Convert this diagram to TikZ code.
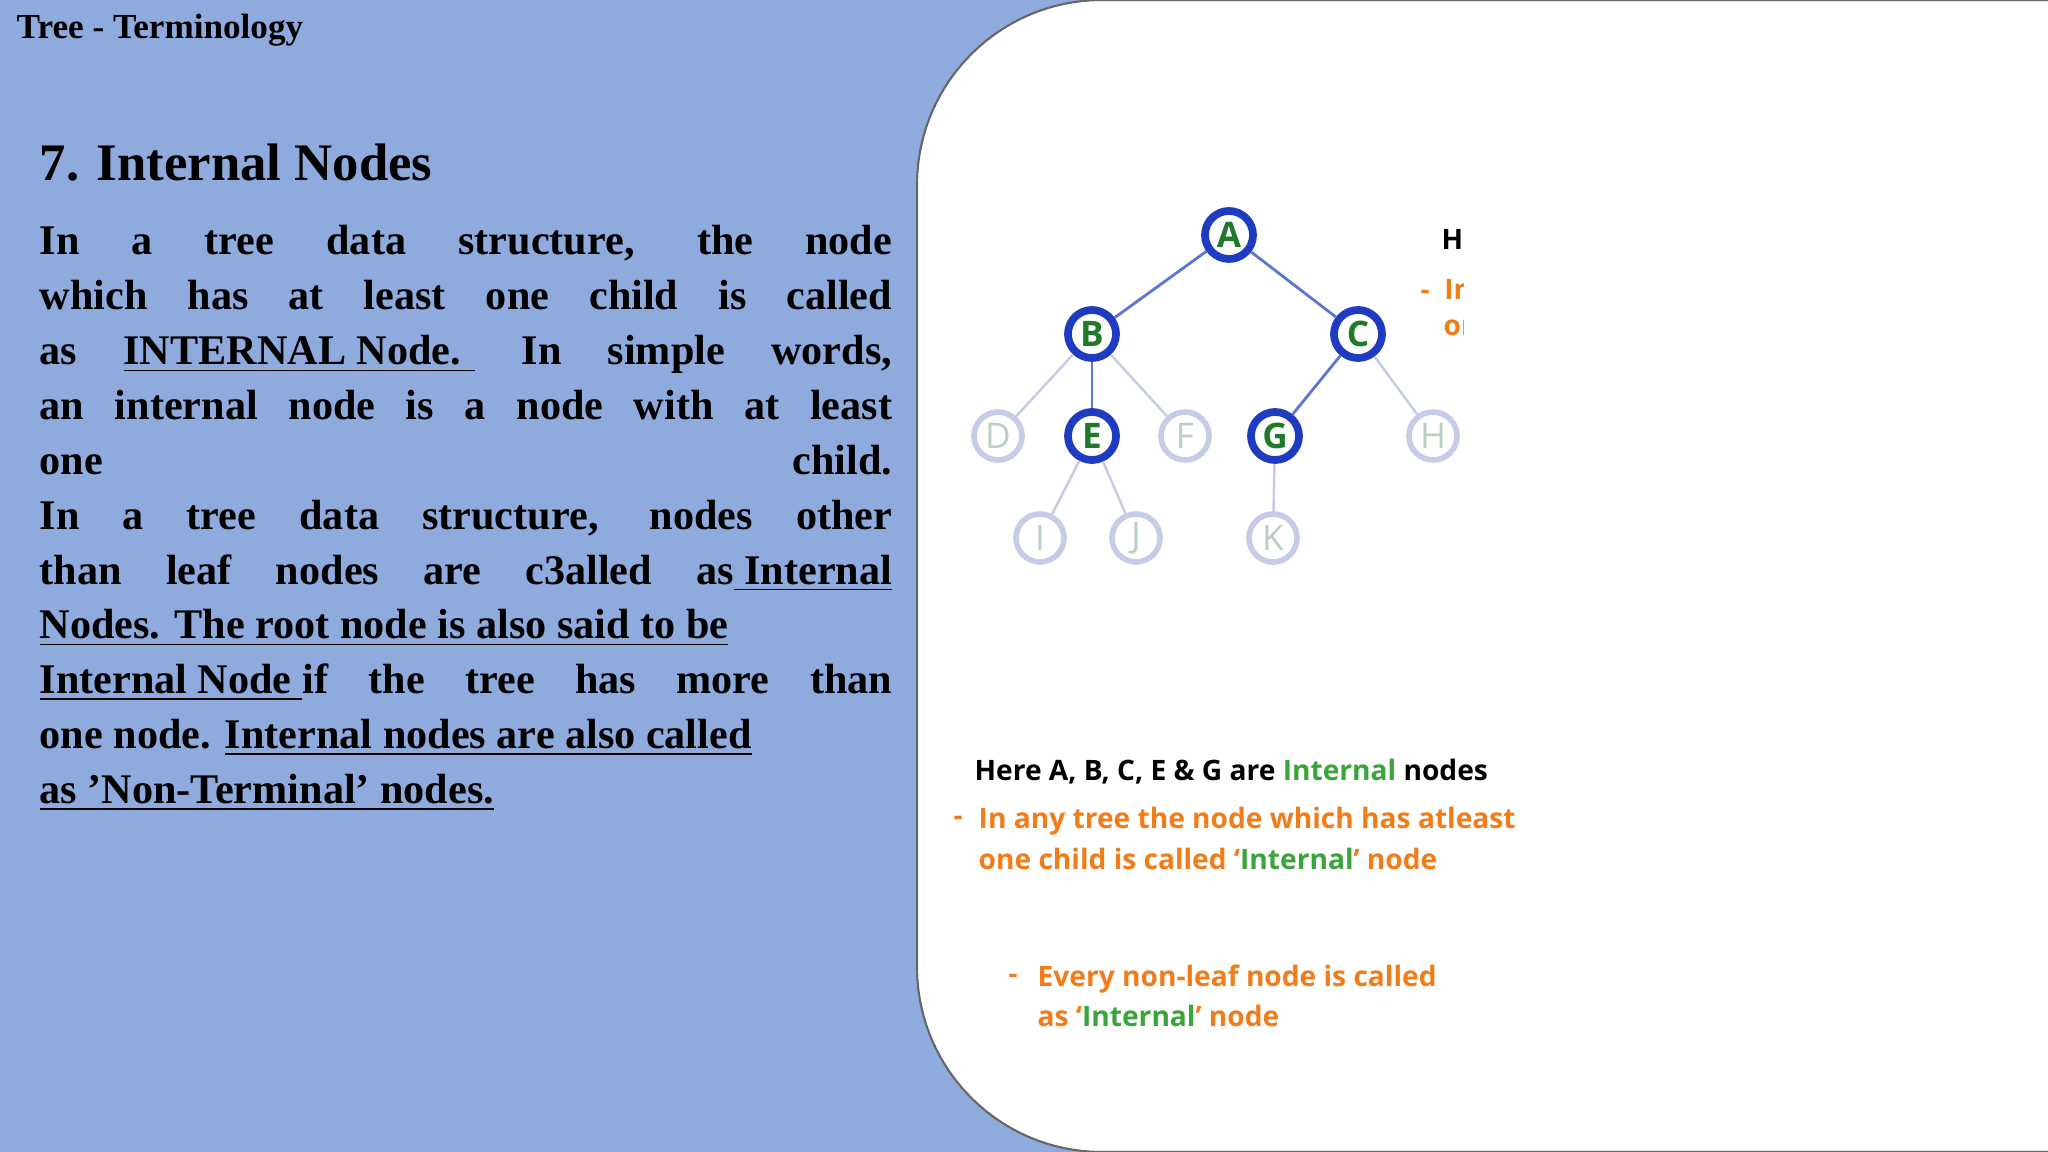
\documentclass[tikz,border=0pt]{standalone}
\usepackage{fontspec}
\setmainfont{Liberation Serif}
\newfontfamily\slidesans{Open Sans}
\usetikzlibrary{positioning}
\definecolor{slideblue}{HTML}{8FAADC}
\definecolor{ringblue}{HTML}{1F3CC0}
\definecolor{edgeblue}{HTML}{5B78D0}
\definecolor{fadering}{HTML}{C5CDE6}
\definecolor{fadetext}{HTML}{B9CFC0}
\definecolor{keygreen}{HTML}{1F7A2A}
\definecolor{txtgreen}{HTML}{3AA53A}
\definecolor{txtorange}{HTML}{F07D1A}
\tikzset{
  inode/.style={circle,draw=ringblue,line width=2.2pt,fill=white,minimum size=0.48cm,inner sep=0pt,
    font=\slidesans\bfseries\fontsize{10}{12}\selectfont,text=keygreen},
  lnode/.style={circle,draw=fadering,line width=1.6pt,fill=white,minimum size=0.48cm,inner sep=0pt,
    font=\slidesans\fontsize{10}{12}\selectfont,text=fadetext},
  bold edge/.style={edgeblue,line width=0.8pt},
  faint edge/.style={fadering,line width=0.7pt},
  note/.style={anchor=west,inner sep=0pt,font=\slidesans\bfseries\fontsize{8}{10}\selectfont}
}
\begin{document}
\begin{tikzpicture}[x=0.01cm,y=-0.01cm]
\useasboundingbox (0,0) rectangle (2048,1152);
\clip (0,0) rectangle (2048,1152);
\fill[slideblue] (0,0) rectangle (2048,1152);
\fill[white,draw=black!60,line width=0.6pt,rounded corners=1.85cm] (917,0) rectangle (2300,1152);

% left text
\node[anchor=west,inner sep=0pt,font=\bfseries\fontsize{10}{12}\selectfont] (title) at (16,30) {Tree - Terminology};
\node[anchor=west,inner sep=0pt,font=\bfseries\fontsize{15}{18}\selectfont] (head) at (39,163) {7. Internal Nodes};
\node[anchor=north west,inner sep=0pt,text width=8.52cm,align=justify,
  font=\bfseries\fontsize{12}{15.6}\selectfont] (body) at (39,225) {%
In a tree data structure, the node\linebreak
which has at least one child is called\linebreak
as \underline{INTERNAL Node. } In simple words,\linebreak
an internal node is a node with at least\linebreak
one child.\linebreak
In a tree data structure, nodes other\linebreak
than leaf nodes are c3alled as\underline{ Internal}\linebreak
\underline{Nodes. The root node is also said to be}\linebreak
\underline{Internal Node }if the tree has more than\linebreak
one node. \underline{Internal nodes are also called}\newline
\underline{as 'Non-Terminal' nodes.}};

% tree
\node[inode] (A) at (1229,235) {A};
\node[inode] (B) at (1092,334) {B};
\node[inode] (C) at (1358,334) {C};
\node[lnode] (D) at (998,436) {D};
\node[inode] (E) at (1092,436) {E};
\node[lnode] (F) at (1185,436) {F};
\node[inode] (G) at (1275,436) {G};
\node[lnode] (H) at (1433,436) {H};
\node[lnode] (I) at (1040,538) {I};
\node[lnode] (J) at (1136,538) {J};
\node[lnode] (K) at (1273,538) {K};
\draw[bold edge] (A) -- (B);
\draw[bold edge] (A) -- (C);
\draw[bold edge] (B) -- (E);
\draw[bold edge] (C) -- (G);
\draw[faint edge] (B) -- (D);
\draw[faint edge] (B) -- (F);
\draw[faint edge] (C) -- (H);
\draw[faint edge] (E) -- (I);
\draw[faint edge] (E) -- (J);
\draw[faint edge] (G) -- (K);

% cut-off notes
\begin{scope}
\clip (1400,150) rectangle (1463,360);
\node[note] (cutH) at (1441,240) {Here};
\node[note,text=txtorange] (cutI) at (1420,289) {-\ \ In};
\node[note,text=txtorange] (cutO) at (1443,328) {one};
\end{scope}

% notes
\node[note] (here) at (974,772) {Here A, B, C, E \& G are \textcolor{txtgreen}{Internal} nodes};
\node[note,text=txtorange] (dash1) at (953,821) {-};
\node[note,text=txtorange] (line1) at (978,821) {In any tree the node which has atleast};
\node[note,text=txtorange] (line2) at (978,859) {one child is called ‘\textcolor{txtgreen}{Internal}’ node};
\node[note,text=txtorange] (dash2) at (1008,979) {-};
\node[note,text=txtorange] (line3) at (1037,979) {Every non-leaf node is called};
\node[note,text=txtorange] (line4) at (1037,1016) {as ‘\textcolor{txtgreen}{Internal}’ node};
\end{tikzpicture}
\end{document}
